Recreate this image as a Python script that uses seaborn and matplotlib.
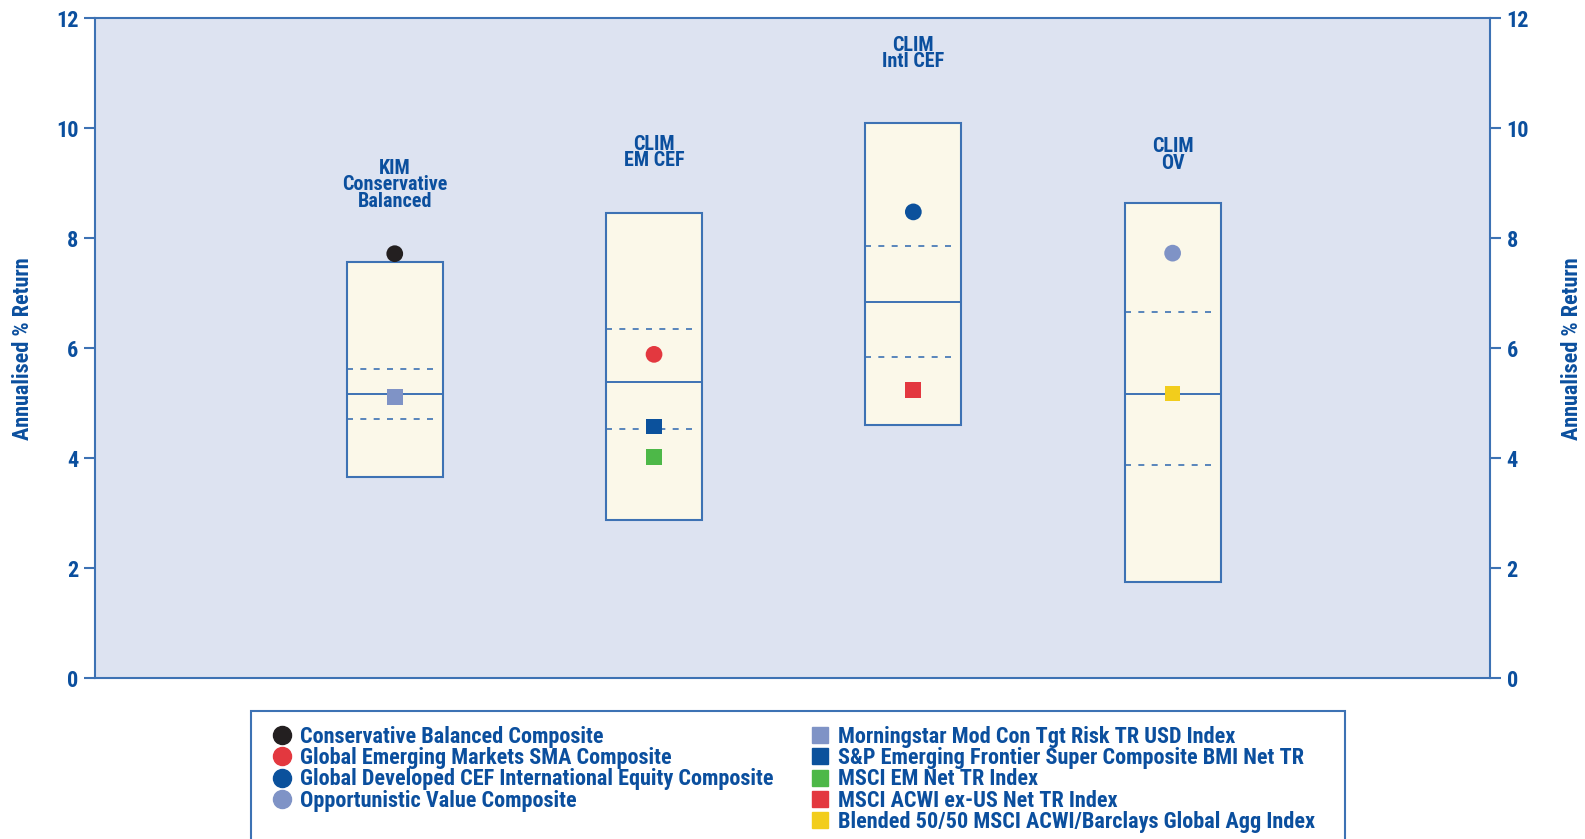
import matplotlib
matplotlib.use("Agg")
import matplotlib.pyplot as plt
from matplotlib.lines import Line2D
from matplotlib.patches import Rectangle
import seaborn as sns

# strategy ranges (annualised % return)
strategies = ["KIM\nConservative\nBalanced", "CLIM\nEM CEF", "CLIM\nIntl CEF", "CLIM\nOV"]
range_low = [3.66, 2.87, 4.61, 1.75]
range_high = [7.56, 8.46, 10.10, 8.64]
quart_low = [4.72, 4.53, 5.84, 3.88]
median = [5.16, 5.38, 6.84, 5.17]
quart_high = [5.62, 6.35, 7.86, 6.66]
label_y = [8.97, 9.56, 11.36, 9.51]

# composites (circles)
composites = ["Conservative Balanced Composite",
              "Global Emerging Markets SMA Composite",
              "Global Developed CEF International Equity Composite",
              "Opportunistic Value Composite"]
composite_pos = [0, 1, 2, 3]
composite_values = [7.72, 5.89, 8.48, 7.73]
composite_colors = ["#231f20", "#e3383f", "#0b519c", "#7f93c6"]

# benchmarks (squares)
benchmarks = ["Morningstar Mod Con Tgt Risk TR USD Index",
              "S&P Emerging Frontier Super Composite BMI Net TR",
              "MSCI EM Net TR Index",
              "MSCI ACWI ex-US Net TR Index",
              "Blended 50/50 MSCI ACWI/Barclays Global Agg Index"]
benchmark_pos = [0, 1, 1, 2, 3]
benchmark_values = [5.12, 4.58, 4.02, 5.24, 5.18]
benchmark_colors = ["#7f93c6", "#0b519c", "#4db848", "#e3383f", "#f2cd1c"]

blue = "#0b4f9e"
edge = "#3d72b4"

sns.set_theme(style="white")
plt.rcParams["font.family"] = ["Roboto Condensed", "DejaVu Sans"]
plt.rcParams["font.weight"] = "bold"

fig = plt.figure(figsize=(15.85, 8.39), dpi=100)
ax = fig.add_axes([0.05994, 0.19154, 0.88012, 0.78665])
ax.set_facecolor("#dde3f1")

heights = [h - l for h, l in zip(range_high, range_low)]
sns.barplot(x=strategies, y=heights, bottom=range_low, order=strategies,
            color="#fbf8e9", edgecolor=edge, linewidth=1.5, width=0.37,
            errorbar=None, saturation=1, ax=ax)

pos = list(range(len(strategies)))
half = 0.37 / 2
ax.hlines(median, [p - half for p in pos], [p + half for p in pos], color=edge, lw=1.4, zorder=3)
ax.hlines(quart_low + quart_high,
          [p - half for p in pos] * 2, [p + half - 0.015 for p in pos] * 2,
          color=edge, lw=1.2, linestyles=(0, (3.6, 4.4)), zorder=3)

sns.scatterplot(x=composite_pos, y=composite_values, hue=composites, palette=composite_colors,
                marker="o", s=145, linewidth=0, legend=False, zorder=5, ax=ax)
sns.scatterplot(x=benchmark_pos, y=benchmark_values, hue=benchmarks, palette=benchmark_colors,
                marker="s", s=128, linewidth=0, legend=False, zorder=5, ax=ax)

for p, name, ly in zip(pos, strategies, label_y):
    ax.text(p, ly, name, ha="center", va="center", color=blue, fontsize=14.5,
            fontweight="bold", linespacing=0.85)

ax.set_xlim(-1.156, 4.224)
ax.set_ylim(0, 12)
ax.set_xticks([])
ax.set_xlabel("")
ax.set_yticks(range(0, 13, 2))
for s in ax.spines.values():
    s.set_visible(True)
    s.set_color(edge)
    s.set_linewidth(1.5)
ax.tick_params(axis="y", left=True, length=8, width=1.5, color=edge, pad=4,
               labelsize=16, labelcolor=blue)
ax.set_ylabel("Annualised % Return", fontsize=16, color=blue, fontweight="bold")
ax.yaxis.set_label_coords(-0.0437, 0.5)

ax2 = ax.twinx()
ax2.set_ylim(0, 12)
ax2.set_yticks(range(0, 13, 2))
ax2.grid(False)
for s in ax2.spines.values():
    s.set_visible(False)
ax2.tick_params(axis="y", right=True, length=8, width=1.5, color=edge, pad=4,
                labelsize=16, labelcolor=blue)
ax2.set_ylabel("Annualised % Return", fontsize=16, color=blue, fontweight="bold")
ax2.yaxis.set_label_coords(1.0509, 0.5)
for lab in ax.get_yticklabels() + ax2.get_yticklabels():
    lab.set_fontweight("bold")

# legend box (runs off the bottom of the figure)
fig.patches.append(Rectangle((0.1582, -0.1), 0.6906, 0.253, transform=fig.transFigure,
                             facecolor="white", edgecolor=edge, lw=1.5, zorder=0))

circ_handles = [Line2D([], [], marker="o", ls="", color=c, markersize=13) for c in composite_colors]
sq_handles = [Line2D([], [], marker="s", ls="", color=c, markersize=11.5) for c in benchmark_colors]
leg_kw = dict(loc="upper left", frameon=False, borderpad=0, borderaxespad=0,
              handlelength=0.9, handletextpad=0.35, labelspacing=-0.035,
              prop={"size": 16, "weight": "bold"}, labelcolor=blue)
leg1 = fig.legend(circ_handles, composites, bbox_to_anchor=(272.3 / 1585, 0.1347), **leg_kw)
leg2 = fig.legend(sq_handles, benchmarks, bbox_to_anchor=(810 / 1585, 0.1347), **leg_kw)

fig.savefig("out.png", dpi=100)
